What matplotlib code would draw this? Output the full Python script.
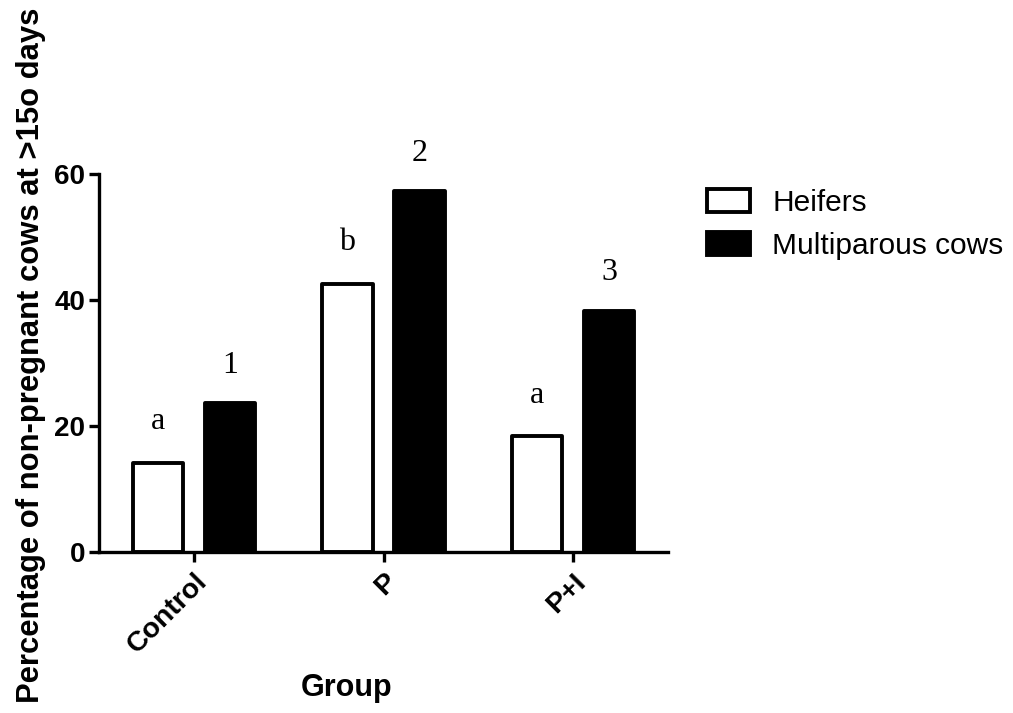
import matplotlib
matplotlib.use("Agg")
import matplotlib.pyplot as plt
from matplotlib.patches import Patch
import numpy as np

groups = ["Control", "P", "P+I"]
heifers = [14.2, 42.6, 18.4]
multiparous = [23.6, 57.3, 38.3]
heifer_letters = ["a", "b", "a"]
multi_letters = ["1", "2", "3"]
y_ticks = [0, 20, 40, 60]

plt.rcParams['font.family'] = ['Liberation Sans', 'DejaVu Sans']

fig = plt.figure(figsize=(10.13, 7.13), dpi=100)
ax = fig.add_axes([99/1013, 1-552/713, (668-99)/1013, (552-174)/713])

x = np.arange(len(groups))
off = 0.19
w = 0.265
lw = 2.8
b1 = ax.bar(x - off, heifers, w, facecolor='white', edgecolor='black', linewidth=lw, joinstyle='round')
b2 = ax.bar(x + off, multiparous, w, facecolor='black', edgecolor='black', linewidth=lw, joinstyle='round')

serif = ['Liberation Serif', 'DejaVu Serif']
for xi, v, t in zip(x - off, heifers, heifer_letters):
    ax.text(xi, v + 6.5, t, ha='center', va='center', fontsize=23, family=serif)
for xi, v, t in zip(x + off, multiparous, multi_letters):
    ax.text(xi, v + 6.0, t, ha='center', va='center', fontsize=23, family=serif)

ax.set_xlim(-0.5, 2.5)
ax.set_ylim(0, 60)
ax.set_yticks(y_ticks)
ax.set_xticks(x)
ax.set_xticklabels(groups, rotation=45, ha='right', va='top', rotation_mode='anchor',
                   fontsize=20.5, fontweight='bold')
for lbl in ax.get_yticklabels():
    lbl.set_fontsize(20)
    lbl.set_fontweight('bold')

for s in ['top', 'right']:
    ax.spines[s].set_visible(False)
for s in ['left', 'bottom']:
    ax.spines[s].set_linewidth(2.4)
ax.tick_params(axis='both', direction='out', length=7, width=2.4, pad=3)
ax.tick_params(axis='x', pad=5)

fig.text(347/1013, 1-688/713, "Group", ha='center', va='center', fontsize=22, fontweight='bold')
fig.text(31/1013, 0.502, "Percentage of non-pregnant cows at >15o days", rotation=90,
         ha='center', va='center', fontsize=22.3, fontweight='bold')

handles = [Patch(facecolor='white', edgecolor='black', linewidth=lw, joinstyle='round'),
           Patch(facecolor='black', edgecolor='black', linewidth=lw, joinstyle='round')]
fig.legend(handles, ["Heifers", "Multiparous cows"], loc='upper left',
           bbox_to_anchor=(707/1013, 1-189/713), frameon=False, fontsize=21.5,
           handlelength=1.44, handleheight=0.8, handletextpad=0.75, labelspacing=0.5,
           borderaxespad=0, borderpad=0)

fig.savefig("out.png", dpi=100)
